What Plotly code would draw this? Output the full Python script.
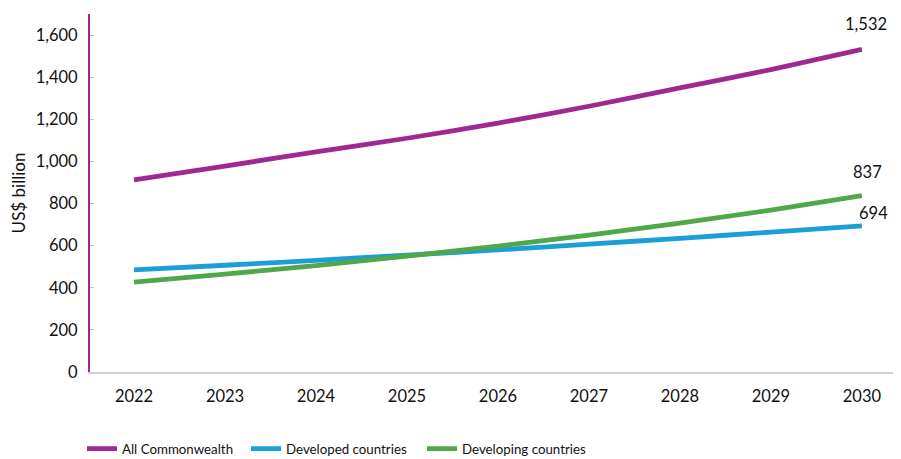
import plotly.graph_objects as go

years = [2022, 2023, 2024, 2025, 2026, 2027, 2028, 2029, 2030]
all_commonwealth = [912, 978, 1045, 1110, 1182, 1262, 1349, 1436, 1532]
developed = [485, 507, 530, 555, 580, 607, 635, 664, 694]
developing = [427, 465, 505, 550, 598, 650, 707, 769, 837]

series = [
    ("All Commonwealth", all_commonwealth, "#9e2a91", "legend"),
    ("Developed countries", developed, "#1c9fd8", "legend2"),
    ("Developing countries", developing, "#4fa84a", "legend3"),
]

FONT = "Lato, Noto Sans, sans-serif"
TXT = "#111111"

# page body has an 8px default margin: figure is sized to fit the 901x459 window
W, H = 893, 451
ML, MR, MT, MB = 82, 0, 6, 87
PW = W - ML - MR  # 811

fig = go.Figure()
for name, vals, col, lg in series:
    fig.add_trace(go.Scatter(
        x=years, y=vals, name=name, mode="lines", legend=lg,
        line=dict(color=col, width=4.8, shape="spline", smoothing=0.6),
    ))

# end labels
fig.add_annotation(x=years[-1], y=all_commonwealth[-1], text="1,532", showarrow=False,
                   yshift=25, xshift=4, font=dict(size=16.5, color=TXT))
fig.add_annotation(x=years[-1], y=developing[-1], text="837", showarrow=False,
                   yshift=24, xshift=6, font=dict(size=16.5, color=TXT))
fig.add_annotation(x=years[-1], y=developed[-1], text="694", showarrow=False,
                   yshift=13, xshift=12, font=dict(size=16.5, color=TXT))

def leg(box_left_screen):
    return dict(orientation="h", x=(box_left_screen - 90) / PW, xanchor="left", y=-0.215,
                yanchor="middle", font=dict(size=13.3, color=TXT), itemwidth=30,
                bgcolor="rgba(0,0,0,0)")

fig.update_layout(
    width=W, height=H,
    margin=dict(l=ML, r=MR, t=MT, b=MB, autoexpand=False),
    paper_bgcolor="white", plot_bgcolor="white",
    font=dict(family=FONT, size=16.5, color=TXT),
    showlegend=True,
    legend=leg(82), legend2=leg(246), legend3=leg(422),
    xaxis=dict(range=[2021.516, 2030.43], tickmode="array", tickvals=years,
               ticktext=[str(y) for y in years], showgrid=False, zeroline=False,
               showline=True, linecolor="#d3d3d3", linewidth=2, ticks="",
               automargin=False,
               ticklabelstandoff=8, tickfont=dict(size=16.5)),
    yaxis=dict(range=[0, 1700], tickvals=list(range(0, 1700, 200)),
               tickformat=",d", showgrid=False, zeroline=False,
               showline=True, linecolor="#9e2a91", linewidth=2,
               ticks="inside", ticklen=4, tickcolor="#e6a6dc", tickwidth=1,
               ticklabelstandoff=7, automargin=False,
               title=dict(text="US$ billion", standoff=10, font=dict(size=17)),
               tickfont=dict(size=16.5)),
)

fig.write_html("out.html")
